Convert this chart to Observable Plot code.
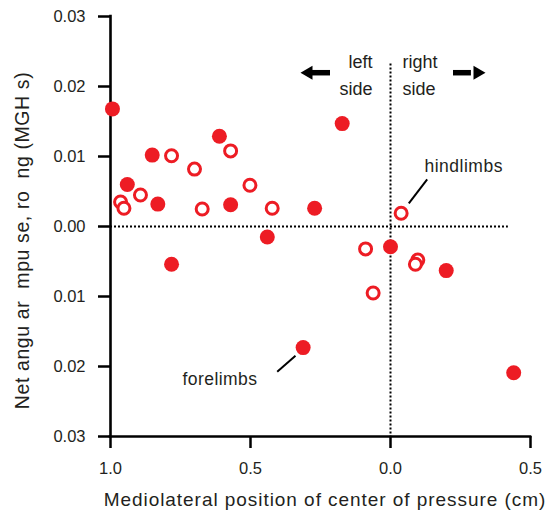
<!DOCTYPE html>
<html>
<head>
<meta charset="utf-8">
<script src="https://cdn.jsdelivr.net/npm/d3@7"></script>
<script src="https://cdn.jsdelivr.net/npm/@observablehq/plot@0.6"></script>
<style>
  html, body { margin: 0; padding: 0; background: #fff; }
  svg { display: block; }
</style>
</head>
<body>
<div id="chart"></div>
<script>
// Forelimbs (filled) and hindlimbs (open): mediolateral position (cm) vs net angular impulse
const filledX = [0.993, 0.851, 0.940, 0.831, 0.611, 0.571, 0.440, 0.271, 0.782, 0.1725, 0.0, -0.199, 0.312, -0.440];
const filledY = [0.0168, 0.0102, 0.0060, 0.0032, 0.0129, 0.0031, -0.0015, 0.0026, -0.0054, 0.0147, -0.0029, -0.0063, -0.0173, -0.0209];
const openX = [0.782, 0.700, 0.571, 0.502, 0.893, 0.964, 0.952, 0.6725, 0.4225, -0.038, 0.089, -0.0975, -0.089, 0.062];
const openY = [0.0101, 0.0082, 0.0108, 0.0059, 0.0045, 0.0035, 0.0026, 0.0025, 0.0026, 0.0019, -0.0032, -0.0048, -0.0054, -0.0095];

const xTicks = [1.0, 0.5, 0.0, -0.5];
const xTickLabels = ["1.0", "0.5", "0.0", "0.5"];
const yTicks = [0.03, 0.02, 0.01, 0.0, -0.01, -0.02, -0.03];
const yTickLabels = ["0.03", "0.02", "0.01", "0.00", "0.01", "0.02", "0.03"];

const xTitle = "Mediolateral position of center of pressure (cm)";
const yTitle = "Net angu ar  mpu se, ro  ng (MGH s)";

// annotations (data space)
const leftLabels = [
  {x: 0.0643, y: 0.02264, text: "left"},
  {x: 0.0643, y: 0.01879, text: "side"}
];
const rightLabels = [
  {x: -0.0429, y: 0.02264, text: "right"},
  {x: -0.0429, y: 0.01879, text: "side"}
];
const groupLabels = [
  {x: -0.1214, y: 0.00779, text: "hindlimbs"},
  {x: 0.743, y: -0.02264, text: "forelimbs"}
];
const leaders = [
  {x1: -0.131, y1: 0.00674, x2: -0.0654, y2: 0.00331},
  {x1: 0.4046, y1: -0.02074, x2: 0.3393, y2: -0.01846}
];
const arrowShafts = [
  {x1: 0.2857, x2: 0.2143, y: 0.02197},
  {x1: -0.225, x2: -0.289, y: 0.02197}
];
const arrowHeads = [
  {x: 0.2929, y: 0.02197, rotate: -90},
  {x: -0.3107, y: 0.02197, rotate: 90}
];

const red = "#ed1c24";
const textColor = "#231f20";
const xMap = new Map(xTicks.map((t, i) => [t, xTickLabels[i]]));
const yMap = new Map(yTicks.map((t, i) => [t, yTickLabels[i]]));
const filled = filledX.map((x, i) => ({x, y: filledY[i]}));
const open = openX.map((x, i) => ({x, y: openY[i]}));

const chart = Plot.plot({
  width: 548,
  height: 513,
  marginLeft: 110,
  marginRight: 18,
  marginTop: 16,
  marginBottom: 77,
  x: {domain: [1.0, -0.5]},
  y: {domain: [-0.03, 0.03]},
  style: {fontFamily: "'Liberation Sans', Arial, Helvetica, sans-serif", fontSize: "16.5px", background: "#fff", color: textColor},
  marks: [
    // reference lines
    Plot.ruleY([0], {x1: 1.0, x2: -0.421, stroke: "#000", strokeWidth: 2, strokeDasharray: "2,2"}),
    Plot.ruleX([0], {y1: 0.0232, y2: -0.03, stroke: "#000", strokeWidth: 2, strokeDasharray: "2,2"}),
    // axes
    Plot.axisX({ticks: xTicks, tickFormat: d => xMap.get(d), tickSize: 12, tickPadding: 14, stroke: "#000", strokeWidth: 2.5, fill: textColor, label: null}),
    Plot.axisY({ticks: yTicks, tickFormat: d => yMap.get(d), tickSize: 12, tickPadding: 13, stroke: "#000", strokeWidth: 2.5, fill: textColor, label: null}),
    Plot.ruleX([1.0], {y1: -0.03, y2: 0.03, stroke: "#000", strokeWidth: 2.6, strokeLinecap: "square"}),
    Plot.ruleY([-0.03], {x1: 1.0, x2: -0.5, stroke: "#000", strokeWidth: 2.6, strokeLinecap: "square"}),
    // titles
    Plot.text([xTitle], {frameAnchor: "bottom", text: d => d, textAnchor: "middle", dy: 69, dx: 4.5, lineAnchor: "bottom", fontSize: 19, fill: textColor}),
    Plot.text([yTitle], {frameAnchor: "left", text: d => d, textAnchor: "middle", rotate: -90, dx: -82, dy: 14, lineAnchor: "bottom", fontSize: 19.5, fill: textColor}),
    // annotations
    Plot.ruleY(arrowShafts, {x1: "x1", x2: "x2", y: "y", stroke: "#000", strokeWidth: 5.5}),
    Plot.dot(arrowHeads, {x: "x", y: "y", rotate: "rotate", symbol: "triangle", r: 5.14, fill: "#000", stroke: "none"}),
    Plot.text(leftLabels, {x: "x", y: "y", text: "text", textAnchor: "end", lineAnchor: "bottom", fontSize: 18, fill: textColor}),
    Plot.text(rightLabels, {x: "x", y: "y", text: "text", textAnchor: "start", lineAnchor: "bottom", fontSize: 18, fill: textColor}),
    Plot.text(groupLabels, {x: "x", y: "y", text: "text", textAnchor: "start", lineAnchor: "bottom", fontSize: 17.5, fill: textColor}),
    Plot.link(leaders, {x1: "x1", y1: "y1", x2: "x2", y2: "y2", stroke: "#000", strokeWidth: 2}),
    // data
    Plot.dot(open, {x: "x", y: "y", r: 6, stroke: red, strokeWidth: 3, fill: "#fff"}),
    Plot.dot(filled, {x: "x", y: "y", r: 7.5, fill: red, stroke: "none"})
  ]
});

// slight letter spacing to match the reference text widths
const spacing = new Map([[xTitle, "0.95px"], [yTitle, "0.6px"], ["hindlimbs", "0.5px"], ["forelimbs", "0.45px"]]);
d3.select(chart).selectAll("text").each(function () {
  const s = spacing.get(this.textContent);
  if (s) this.setAttribute("letter-spacing", s);
});
document.getElementById("chart").appendChild(chart);
</script>
</body>
</html>
